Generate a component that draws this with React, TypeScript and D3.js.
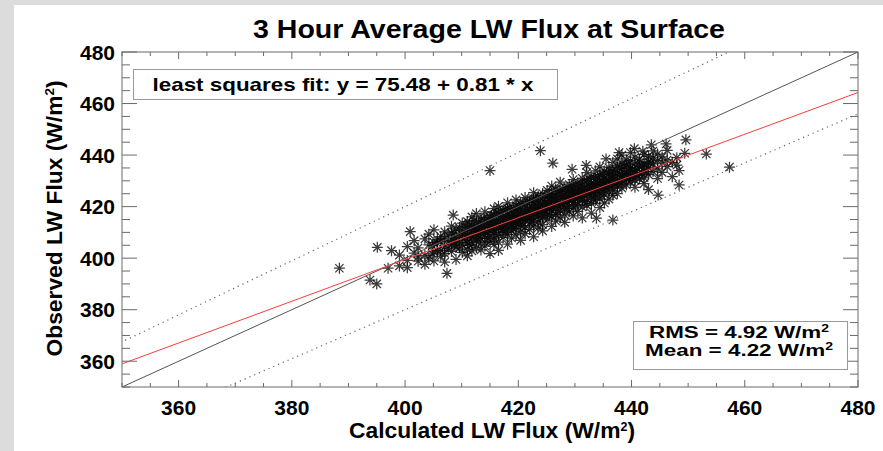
import React from 'react';
import * as d3 from 'd3';

const calcFlux = [
  388.4, 393.8, 395.0, 395.1, 397.0, 397.6, 400.9, 407.4, 415.0, 408.5, 423.9, 426.1, 433.8, 436.7,
  449.6, 453.2, 457.3, 448.4, 448.4, 446.1, 449.4, 444.7, 429.5, 432.0, 435.5, 437.8, 440.5, 442.0, 443.5,
  399.0, 399.0,
  400.4, 400.4, 400.4,
  401.6, 401.6,
  402.3, 402.3, 402.3,
  403.5, 403.5, 403.5,
  404.2, 404.2, 404.2,
  405.1, 405.1, 405.1, 405.1,
  406.3, 406.3, 406.3, 406.3,
  407.0, 407.0, 407.0, 407.0, 407.0,
  408.2, 408.2, 408.2, 408.2, 408.2,
  409.0, 409.0, 409.0, 409.0, 409.0,
  410.1, 410.1, 410.1, 410.1, 410.1, 410.1,
  411.0, 411.0, 411.0, 411.0, 411.0, 411.0,
  411.8, 411.8, 411.8, 411.8, 411.8, 411.8,
  412.6, 412.6, 412.6, 412.6, 412.6, 412.6, 412.6,
  413.4, 413.4, 413.4, 413.4, 413.4, 413.4,
  414.1, 414.1, 414.1, 414.1, 414.1, 414.1, 414.1,
  415.0, 415.0, 415.0, 415.0, 415.0, 415.0, 415.0,
  415.7, 415.7, 415.7, 415.7, 415.7, 415.7, 415.7,
  416.5, 416.5, 416.5, 416.5, 416.5, 416.5, 416.5, 416.5,
  417.3, 417.3, 417.3, 417.3, 417.3, 417.3, 417.3,
  418.1, 418.1, 418.1, 418.1, 418.1, 418.1, 418.1, 418.1,
  418.8, 418.8, 418.8, 418.8, 418.8, 418.8, 418.8,
  419.6, 419.6, 419.6, 419.6, 419.6, 419.6, 419.6, 419.6,
  420.4, 420.4, 420.4, 420.4, 420.4, 420.4, 420.4, 420.4,
  421.2, 421.2, 421.2, 421.2, 421.2, 421.2, 421.2, 421.2,
  422.0, 422.0, 422.0, 422.0, 422.0, 422.0, 422.0,
  422.7, 422.7, 422.7, 422.7, 422.7, 422.7, 422.7, 422.7,
  423.5, 423.5, 423.5, 423.5, 423.5, 423.5, 423.5, 423.5,
  424.3, 424.3, 424.3, 424.3, 424.3, 424.3, 424.3, 424.3,
  425.1, 425.1, 425.1, 425.1, 425.1, 425.1, 425.1,
  425.9, 425.9, 425.9, 425.9, 425.9, 425.9, 425.9, 425.9,
  426.6, 426.6, 426.6, 426.6, 426.6, 426.6, 426.6,
  427.4, 427.4, 427.4, 427.4, 427.4, 427.4, 427.4, 427.4,
  428.2, 428.2, 428.2, 428.2, 428.2, 428.2, 428.2, 428.2,
  429.0, 429.0, 429.0, 429.0, 429.0, 429.0, 429.0,
  429.7, 429.7, 429.7, 429.7, 429.7, 429.7, 429.7, 429.7,
  430.5, 430.5, 430.5, 430.5, 430.5, 430.5, 430.5,
  431.3, 431.3, 431.3, 431.3, 431.3, 431.3, 431.3, 431.3,
  432.1, 432.1, 432.1, 432.1, 432.1, 432.1, 432.1,
  432.9, 432.9, 432.9, 432.9, 432.9, 432.9, 432.9, 432.9,
  433.6, 433.6, 433.6, 433.6, 433.6, 433.6, 433.6,
  434.4, 434.4, 434.4, 434.4, 434.4, 434.4, 434.4, 434.4,
  435.2, 435.2, 435.2, 435.2, 435.2, 435.2, 435.2,
  436.0, 436.0, 436.0, 436.0, 436.0, 436.0, 436.0,
  436.7, 436.7, 436.7, 436.7, 436.7, 436.7, 436.7,
  437.5, 437.5, 437.5, 437.5, 437.5, 437.5, 437.5,
  438.3, 438.3, 438.3, 438.3, 438.3, 438.3, 438.3,
  439.1, 439.1, 439.1, 439.1, 439.1, 439.1,
  439.8, 439.8, 439.8, 439.8, 439.8, 439.8,
  440.6, 440.6, 440.6, 440.6, 440.6, 440.6,
  441.4, 441.4, 441.4, 441.4, 441.4,
  442.2, 442.2, 442.2, 442.2, 442.2,
  443.0, 443.0, 443.0, 443.0, 443.0,
  443.8, 443.8, 443.8, 443.8,
  444.6, 444.6, 444.6, 444.6,
  445.4, 445.4, 445.4,
  446.3, 446.3, 446.3,
  447.2, 447.2,
  448.0, 448.0,
];

const obsFlux = [
  396.1, 391.5, 390.0, 404.2, 396.1, 402.9, 410.3, 394.1, 434.0, 416.7, 441.7, 436.9, 415.5, 414.8,
  445.9, 440.4, 435.3, 428.4, 434.0, 444.3, 440.7, 424.5, 434.5, 436.0, 438.5, 441.0, 442.5, 441.5, 444.0,
  401.2, 397.0,
  404.5, 399.1, 396.3,
  406.8, 402.0,
  398.8, 404.0, 400.5,
  407.5, 401.1, 397.6,
  405.2, 400.0, 409.3,
  406.1, 402.4, 398.9, 411.0,
  403.0, 408.4, 400.7, 406.5,
  410.2, 404.3, 401.8, 407.6, 398.5,
  405.4, 409.8, 402.6, 412.4, 407.0,
  404.2, 411.3, 399.5, 408.1, 406.3,
  413.6, 405.1, 409.4, 402.2, 407.9, 410.8,
  406.0, 411.9, 403.4, 414.2, 409.0, 400.9,
  408.2, 412.7, 405.3, 410.6, 416.0, 402.8,
  410.4, 406.7, 413.5, 404.1, 411.2, 408.0, 417.3,
  412.0, 407.6, 409.9, 415.1, 403.2, 411.5,
  414.3, 409.0, 406.1, 412.6, 410.2, 418.0, 404.7,
  413.2, 408.3, 415.9, 410.8, 406.4, 412.1, 401.8,
  410.0, 416.8, 412.9, 407.5, 414.0, 419.2, 405.3,
  417.4, 411.6, 414.6, 409.1, 413.3, 406.2, 420.1, 403.0,
  412.4, 416.0, 410.3, 418.6, 414.8, 408.1, 411.7,
  415.5, 419.3, 411.0, 413.7, 409.2, 417.0, 421.5, 405.4,
  413.0, 416.6, 418.5, 410.7, 415.3, 407.8, 412.2,
  417.9, 414.1, 420.4, 411.5, 416.2, 409.0, 422.6, 413.4,
  415.0, 419.0, 412.8, 417.6, 421.3, 410.2, 414.4, 406.9,
  418.2, 414.9, 420.7, 416.3, 412.0, 423.5, 409.5, 417.1,
  419.6, 416.0, 413.6, 421.9, 418.1, 411.1, 415.2,
  417.0, 420.8, 414.7, 423.0, 418.9, 412.5, 408.3, 425.4,
  421.5, 416.3, 419.4, 414.1, 424.2, 418.0, 411.7, 420.0,
  418.6, 422.4, 415.8, 420.9, 413.0, 425.1, 417.3, 410.6,
  420.3, 423.7, 417.1, 421.8, 414.9, 426.3, 419.0,
  422.2, 418.4, 425.0, 420.0, 416.2, 412.3, 423.6, 428.0,
  419.5, 424.1, 421.7, 417.0, 426.8, 414.4, 422.9,
  423.3, 420.1, 426.0, 418.3, 424.8, 415.6, 421.2, 429.5,
  421.8, 425.5, 419.2, 427.3, 423.0, 416.8, 413.9, 424.4,
  426.4, 422.1, 424.9, 420.3, 428.6, 418.0, 423.6,
  425.1, 427.9, 421.6, 424.0, 419.4, 430.5, 416.4, 426.2,
  423.4, 427.0, 425.8, 420.9, 429.2, 418.2, 424.6,
  426.5, 422.3, 428.4, 424.0, 431.0, 419.8, 415.6, 425.6,
  427.7, 424.9, 430.1, 422.0, 426.3, 433.2, 420.5,
  425.4, 429.0, 427.3, 423.6, 431.6, 421.2, 428.1, 417.5,
  428.5, 426.0, 430.7, 424.3, 433.9, 422.4, 427.6,
  430.0, 427.1, 425.2, 432.3, 428.8, 423.0, 435.4, 419.6,
  429.3, 431.5, 426.6, 433.8, 424.9, 428.4, 421.4,
  427.8, 432.6, 430.2, 425.7, 435.1, 429.4, 422.9,
  431.0, 428.5, 434.0, 426.3, 437.2, 432.0, 424.4,
  430.4, 433.3, 427.6, 435.8, 429.2, 438.5, 425.0,
  432.1, 429.0, 434.6, 436.9, 427.2, 431.4, 440.0,
  433.6, 430.6, 436.2, 428.4, 438.1, 432.4,
  431.5, 435.0, 437.8, 429.6, 441.0, 433.9,
  434.2, 436.7, 430.3, 439.2, 433.1, 427.5,
  435.6, 432.5, 438.4, 430.8, 437.0,
  436.3, 433.8, 440.2, 431.2, 428.9,
  437.5, 435.0, 432.4, 439.5, 426.6,
  436.6, 438.9, 433.6, 441.6,
  437.8, 434.6, 440.4, 430.9,
  436.9, 439.3, 433.3,
  438.1, 435.5, 441.8,
  437.2, 431.6,
  439.0, 436.1,
];

// extra points in the dense core of the cloud
const coreCalc = [
  404.8, 404.8, 405.7, 405.7, 405.7, 407.6, 407.6, 407.6, 408.7, 408.7, 408.7,
  409.6, 409.6, 409.6, 409.6, 410.6, 410.6, 410.6, 411.4, 411.4, 411.4, 411.4,
  412.2, 412.2, 412.2, 413.0, 413.0, 413.0, 413.0, 413.8, 413.8, 413.8,
  414.6, 414.6, 414.6, 414.6, 415.3, 415.3, 415.3, 416.1, 416.1, 416.1, 416.1,
  416.9, 416.9, 416.9, 417.7, 417.7, 417.7, 417.7, 418.5, 418.5, 418.5,
  419.2, 419.2, 419.2, 419.2, 420.0, 420.0, 420.0, 420.8, 420.8, 420.8, 420.8,
  421.6, 421.6, 421.6, 422.4, 422.4, 422.4, 422.4, 423.1, 423.1, 423.1,
  423.9, 423.9, 423.9, 423.9, 424.7, 424.7, 424.7, 425.5, 425.5, 425.5, 425.5,
  426.2, 426.2, 426.2, 427.0, 427.0, 427.0, 427.0, 427.8, 427.8, 427.8,
  428.6, 428.6, 428.6, 428.6, 429.4, 429.4, 429.4, 430.1, 430.1, 430.1, 430.1,
  430.9, 430.9, 430.9, 431.7, 431.7, 431.7, 431.7, 432.5, 432.5, 432.5,
  433.3, 433.3, 433.3, 433.3, 434.0, 434.0, 434.0, 434.8, 434.8, 434.8, 434.8,
  435.6, 435.6, 435.6, 436.4, 436.4, 436.4, 437.1, 437.1, 437.1, 437.9, 437.9, 437.9,
  438.7, 438.7, 438.7, 439.5, 439.5, 439.5, 440.2, 440.2, 441.0, 441.0, 441.8, 441.8,
  442.6, 442.6, 443.4,
];

const coreObs = [
  404.9, 401.7, 405.8, 402.9, 407.3, 406.2, 403.7, 408.9, 407.8, 405.0, 410.1,
  408.6, 406.0, 411.9, 403.9, 409.6, 406.8, 412.2, 410.3, 407.2, 413.1, 405.0,
  411.0, 408.5, 414.6, 411.4, 408.9, 413.9, 406.3, 412.2, 409.5, 415.4,
  412.9, 410.0, 415.7, 407.8, 413.6, 411.0, 416.6, 414.2, 411.2, 417.6, 408.7,
  415.0, 412.3, 417.9, 415.7, 412.9, 418.8, 410.0, 416.4, 413.3, 419.6,
  416.9, 414.0, 419.2, 411.6, 417.4, 414.8, 420.0, 418.3, 415.4, 421.2, 412.6,
  419.0, 416.1, 422.0, 419.6, 416.6, 422.6, 414.0, 420.2, 417.3, 422.8,
  420.9, 418.1, 423.5, 415.4, 421.5, 418.6, 424.1, 422.0, 419.3, 424.7, 416.6,
  422.6, 419.9, 425.4, 423.4, 420.6, 426.1, 417.9, 424.0, 421.1, 426.5,
  424.6, 421.9, 427.4, 419.2, 425.3, 422.6, 428.0, 425.9, 423.1, 428.3, 420.4,
  426.6, 423.8, 429.1, 427.2, 424.4, 429.9, 421.9, 427.9, 425.0, 430.6,
  428.4, 425.7, 431.2, 422.8, 429.1, 426.3, 431.9, 429.8, 426.9, 432.5, 424.1,
  430.4, 427.6, 433.0, 431.1, 428.2, 433.7, 431.7, 428.9, 434.4, 432.4, 429.6, 435.1,
  433.0, 430.3, 435.7, 433.7, 431.0, 436.3, 434.4, 431.6, 435.0, 432.3, 435.7, 433.0,
  436.2, 433.6, 436.9,
];

const xTicks = [360, 380, 400, 420, 440, 460, 480];
const yTicks = [360, 380, 400, 420, 440, 460, 480];
const fitA = 75.48;
const fitB = 0.81;
const bandFactors = [1.05, 0.95];
const rmsText = '4.92';
const meanText = '4.22';

const W = 883;
const H = 451;
const m = { left: 122, top: 52, right: 858, bottom: 387 };
const FONT = 'Liberation Sans, Arial, Helvetica, sans-serif';
const AXIS = '#6a6a6a';

const App: React.FC = () => {
  const x = d3.scaleLinear().domain([350, 480]).range([m.left, m.right]);
  const y = d3.scaleLinear().domain([350, 480]).range([m.bottom, m.top]);
  const minor = d3.range(350, 481, 5);

  const line = d3.line<[number, number]>().x(d => x(d[0])).y(d => y(d[1]));

  // IDL-style asterisk
  const r = 5.5;
  const d2 = r * 0.75;
  const star = `M0,${-r}L0,${r}M${-r},0L${r},0M${-d2},${-d2}L${d2},${d2}M${-d2},${d2}L${d2},${-d2}`;

  const pts = calcFlux.map((v, i) => [v, obsFlux[i]] as [number, number])
    .concat(coreCalc.map((v, i) => [v, coreObs[i]] as [number, number]));

  return (
    <svg width={W} height={H} style={{ position: 'absolute', left: 0, top: 0 }} fontFamily={FONT}>
      <rect x={0} y={0} width={W} height={H} fill="#dcdcdc" />
      <rect x={14} y={5} width={W - 14} height={H - 5} fill="#fff" />

      <defs>
        <clipPath id="plotClip">
          <rect x={m.left} y={m.top} width={m.right - m.left} height={m.bottom - m.top} />
        </clipPath>
      </defs>

      <text x={489} y={38} textAnchor="middle" fontSize={25} fontWeight="bold" textLength={472} lengthAdjust="spacingAndGlyphs">
        3 Hour Average LW Flux at Surface
      </text>

      <g clipPath="url(#plotClip)">
        {pts.map((p, i) => (
          <path key={i} d={star} transform={`translate(${x(p[0])},${y(p[1])})`} stroke="#0a0a0a" strokeWidth={1.25} strokeOpacity={0.8} fill="none" />
        ))}
        <path d={line([[350, 350], [480, 480]]) || ''} stroke="#555" strokeWidth={1} fill="none" />
        <path d={line([[350, fitA + fitB * 350], [480, fitA + fitB * 480]]) || ''} stroke="#ff3b3b" strokeWidth={1} fill="none" />
        {bandFactors.map(f => (
          <path key={f} d={line([[300, 300 * f], [520, 520 * f]]) || ''} stroke="#666" strokeWidth={1.2} strokeDasharray="1.2,4" fill="none" />
        ))}
      </g>

      {/* frame */}
      <rect x={m.left} y={m.top} width={m.right - m.left} height={m.bottom - m.top} fill="none" stroke={AXIS} strokeWidth={1} />
      {minor.map(v => {
        const maj = v % 20 === 0;
        const lx = maj ? 7 : 4;
        const ly = maj ? 15 : 8;
        return (
          <g key={v} stroke={AXIS} strokeWidth={1}>
            <line x1={x(v)} x2={x(v)} y1={m.bottom} y2={m.bottom - lx} />
            <line x1={x(v)} x2={x(v)} y1={m.top} y2={m.top + lx} />
            <line y1={y(v)} y2={y(v)} x1={m.left} x2={m.left + ly} />
            <line y1={y(v)} y2={y(v)} x1={m.right} x2={m.right - ly} />
          </g>
        );
      })}

      {xTicks.map(t => (
        <text key={t} x={x(t)} y={415} textAnchor="middle" fontSize={21} fontWeight="bold">{t}</text>
      ))}
      {yTicks.map(t => (
        <text key={t} x={115} y={y(t) + 7.5} textAnchor="end" fontSize={21} fontWeight="bold">{t}</text>
      ))}

      <text x={492} y={438} textAnchor="middle" fontSize={22} fontWeight="bold" textLength={286} lengthAdjust="spacingAndGlyphs">
        Calculated LW Flux (W/m<tspan dy={-7} fontSize={12}>2</tspan><tspan dy={7}>)</tspan>
      </text>
      <text transform={`translate(62,${(m.top + m.bottom) / 2 - 1}) rotate(-90)`} textAnchor="middle" fontSize={22} fontWeight="bold" textLength={276} lengthAdjust="spacingAndGlyphs">
        Observed LW Flux (W/m<tspan dy={-8} fontSize={13}>2</tspan><tspan dy={8}>)</tspan>
      </text>

      <rect x={133.5} y={69.5} width={424} height={30} fill="#fff" stroke="#999" strokeWidth={1} />
      <text x={343} y={91} textAnchor="middle" fontSize={19} fontWeight="bold" textLength={381} lengthAdjust="spacingAndGlyphs">
        {`least squares fit: y = ${fitA.toFixed(2)} + ${fitB.toFixed(2)} * x`}
      </text>

      <rect x={633.5} y={321.5} width={214} height={48} fill="#fff" stroke="#999" strokeWidth={1} />
      <text x={739} y={337.5} textAnchor="middle" fontSize={16} fontWeight="bold" textLength={180} lengthAdjust="spacingAndGlyphs">
        RMS = {rmsText} W/m<tspan dy={-6} fontSize={10}>2</tspan>
      </text>
      <text x={739} y={356} textAnchor="middle" fontSize={16} fontWeight="bold" textLength={188} lengthAdjust="spacingAndGlyphs">
        Mean = {meanText} W/m<tspan dy={-6} fontSize={10}>2</tspan>
      </text>
    </svg>
  );
};

export default App;
